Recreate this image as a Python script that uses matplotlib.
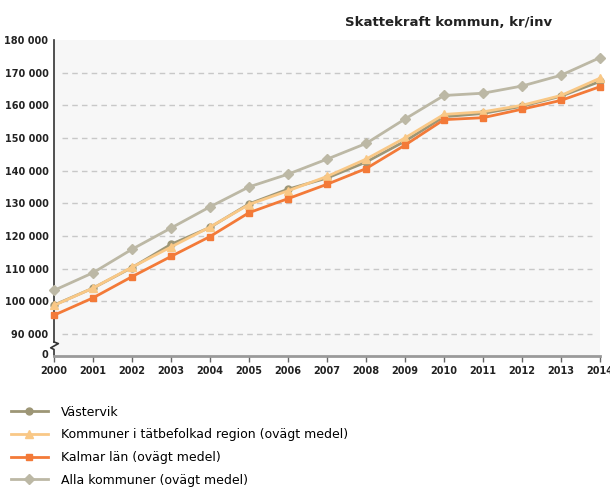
import matplotlib
matplotlib.use("Agg")
import matplotlib.pyplot as plt
import matplotlib.transforms as mtransforms

years = list(range(2000, 2015))
vastervik = [98800, 104000, 110300, 117400, 122600, 129800, 134300, 137700,
             142600, 149000, 156500, 157500, 159700, 162800, 167300]
tatbefolkad = [98700, 104000, 110400, 116600, 122700, 129600, 133800, 138200,
               143500, 150000, 157200, 158000, 160000, 163000, 168300]
kalmar = [95700, 101000, 107500, 113700, 119800, 127100, 131400, 135800,
          140600, 147800, 155600, 156200, 158800, 161500, 165700]
alla = [103300, 108700, 115900, 122400, 128900, 135000, 138900, 143500,
        148300, 155800, 163000, 163700, 165900, 169200, 174600]
labels = ["Västervik", "Kommuner i tätbefolkad region (ovägt medel)",
          "Kalmar län (ovägt medel)", "Alla kommuner (ovägt medel)"]
yticks = [90000, 100000, 110000, 120000, 130000, 140000, 150000, 160000, 170000, 180000]

fig = plt.figure(figsize=(6.1, 4.88), dpi=100)
ax = fig.add_axes([54/610, 1-356/488, 546/610, 316/488])
ax.set_facecolor("#f7f7f7")
ax.set_xlim(2000, 2014)
ax.set_ylim(83200, 180000)

for v in yticks[:-1]:
    ax.axhline(v, xmin=0.015, xmax=0.985, color="#c8c8c8", lw=1, ls=(0, (4, 3)), zorder=1)

series = [
    (vastervik, "#9d9676", "o", 5),
    (tatbefolkad, "#f9c886", "^", 6),
    (kalmar, "#f37a38", "s", 5),
    (alla, "#bcb8a5", "D", 5),
]
handles = []
for (vals, col, mk, ms), lab in zip(series, labels):
    h, = ax.plot(years, vals, color=col, lw=2, marker=mk, ms=ms, mec=col,
                 label=lab, zorder=3, clip_on=False)
    handles.append(h)

for s in ["top", "right", "left"]:
    ax.spines[s].set_visible(False)
ax.spines["bottom"].set_color("#9a9a9a")
ax.spines["bottom"].set_linewidth(2)

# left axis with break
tr = mtransforms.blended_transform_factory(ax.transAxes, ax.transData)
ax.plot([0, 0], [180000, 87500], color="#333333", lw=1.2, transform=tr, clip_on=False)
ax.plot([0, 0.008, -0.006, 0, 0], [87500, 87000, 85700, 85200, 83200],
        color="#333333", lw=1.2, transform=tr, clip_on=False)

ax.set_yticks(yticks + [83700])
ax.set_yticklabels([f"{v//1000} 000" for v in yticks] + ["0"])
ax.set_xticks(years)
ax.set_xticklabels([str(y) for y in years])
ax.tick_params(axis="y", length=0, pad=4, labelsize=7, colors="#222222")
ax.tick_params(axis="x", length=4, width=1, color="#666666", pad=3, labelsize=7, labelcolor="#222222")
for t in ax.get_xticklabels() + ax.get_yticklabels():
    t.set_fontweight("bold")

fig.text(449/610, 1-22/488, "Skattekraft kommun, kr/inv", ha="center", va="center",
         fontsize=9.5, fontweight="bold", color="#222222")

fig.legend(handles=handles, loc="upper left", bbox_to_anchor=(0.005, 1-398/488),
           frameon=False, fontsize=9, handlelength=3, handletextpad=1.0,
           labelspacing=0.78, borderaxespad=0.2)

fig.savefig("out.png", dpi=100)
